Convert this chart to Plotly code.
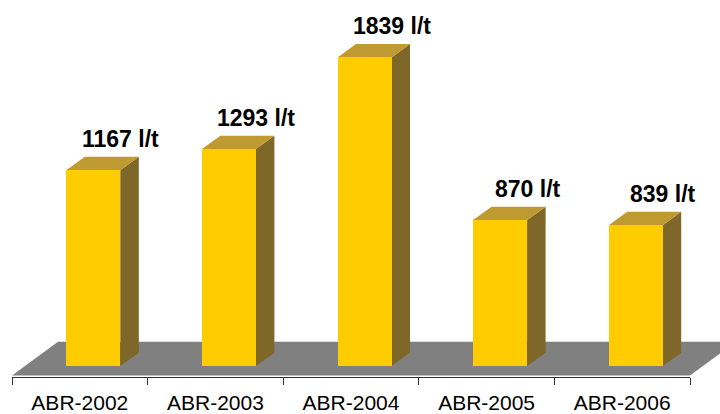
import plotly.graph_objects as go

# Water consumption per tonne, April of each year
categories = ["ABR-2002", "ABR-2003", "ABR-2004", "ABR-2005", "ABR-2006"]
values = [1167, 1293, 1839, 870, 839]
unit = "l/t"

# Colours of the 3D column faces and floor
FRONT = "#FFCC00"
TOP = "#BF9A30"
SIDE = "#7F6629"
FLOOR = "#808080"
FONT = "Arial, Liberation Sans, sans-serif"

# Canvas / plot-area geometry (pixels)
W, H = 720, 414
ML, MR, MT, MB = 12, 30, 0, 34
plot_w = W - ML - MR
plot_h = H - MT - MB

x_range = [-0.5, len(categories) - 0.5]
px_per_x = plot_w / (x_range[1] - x_range[0])
px_per_y = 0.1692                      # pixels per litre
y_min = -11 / px_per_y                 # floor front edge sits 11 px below zero
y_range = [y_min, y_min + plot_h / px_per_y]

# 3D look, expressed in data units
bar_w = 54 / px_per_x                  # width of the front face
bar_off = 13.5 / px_per_x              # shift of front face from category centre
depth_x = 18.5 / px_per_x              # oblique depth of a column
depth_y = 13.5 / px_per_y
floor_dx = 46 / px_per_x               # oblique depth of the floor
floor_dy = 34 / px_per_y
label_off = 41 / px_per_x


def to_paper(x, y):
    return ((x - x_range[0]) / (x_range[1] - x_range[0]),
            (y - y_range[0]) / (y_range[1] - y_range[0]))


def path(points):
    return "M " + " L ".join(f"{a},{b}" for a, b in points) + " Z"


shapes = []

# grey floor (paper coordinates so it may run past the plot edge)
fy = y_range[0] + 1.5 / px_per_y
floor_pts = [to_paper(x_range[0], fy), to_paper(x_range[1], fy),
             to_paper(x_range[1] + floor_dx, fy + floor_dy),
             to_paper(x_range[0] + floor_dx, fy + floor_dy)]
shapes.append(dict(type="path", xref="paper", yref="paper", path=path(floor_pts),
                   fillcolor=FLOOR, line=dict(width=0), layer="below"))

# top and side faces of each column
for i, v in enumerate(values):
    xl = i + bar_off - bar_w / 2
    xr = i + bar_off + bar_w / 2
    top = [(xl, v), (xr, v), (xr + depth_x, v + depth_y), (xl + depth_x, v + depth_y)]
    side = [(xr, 0), (xr + depth_x, depth_y), (xr + depth_x, v + depth_y), (xr, v)]
    shapes.append(dict(type="path", xref="x", yref="y", path=path(side),
                       fillcolor=SIDE, line=dict(width=0), layer="below"))
    shapes.append(dict(type="path", xref="x", yref="y", path=path(top),
                       fillcolor=TOP, line=dict(width=0), layer="below"))

fig = go.Figure()
fig.add_trace(go.Bar(
    x=list(range(len(categories))), y=values,
    width=bar_w, offset=bar_off - bar_w / 2,
    marker=dict(color=FRONT, line=dict(width=0)),
    hoverinfo="skip", showlegend=False,
))

annotations = [
    dict(x=i + label_off, y=v, xref="x", yref="y", text=f"<b>{v} {unit}</b>",
         showarrow=False, yanchor="middle", xanchor="center", yshift=31,
         font=dict(family=FONT, size=23, color="#000000"))
    for i, v in enumerate(values)
]

fig.update_layout(
    width=W, height=H,
    margin=dict(l=ML, r=MR, t=MT, b=MB, pad=0),
    paper_bgcolor="white", plot_bgcolor="rgba(0,0,0,0)",
    shapes=shapes, annotations=annotations,
    xaxis=dict(
        range=x_range, tickvals=list(range(len(categories))), ticktext=categories,
        ticks="outside", ticklen=7, tickcolor="rgba(0,0,0,0)",
        showline=True, linecolor="#333333", linewidth=1,
        showgrid=False, zeroline=False,
        tickfont=dict(family=FONT, size=21, color="#000000"),
        minor=dict(tickvals=[k - 0.5 for k in range(len(categories) + 1)],
                   ticks="outside", ticklen=7, tickcolor="#333333", tickwidth=1,
                   showgrid=False),
        fixedrange=True,
    ),
    yaxis=dict(range=y_range, visible=False, showgrid=False, zeroline=False,
               fixedrange=True),
    bargap=0,
)

fig.write_html("out.html")
